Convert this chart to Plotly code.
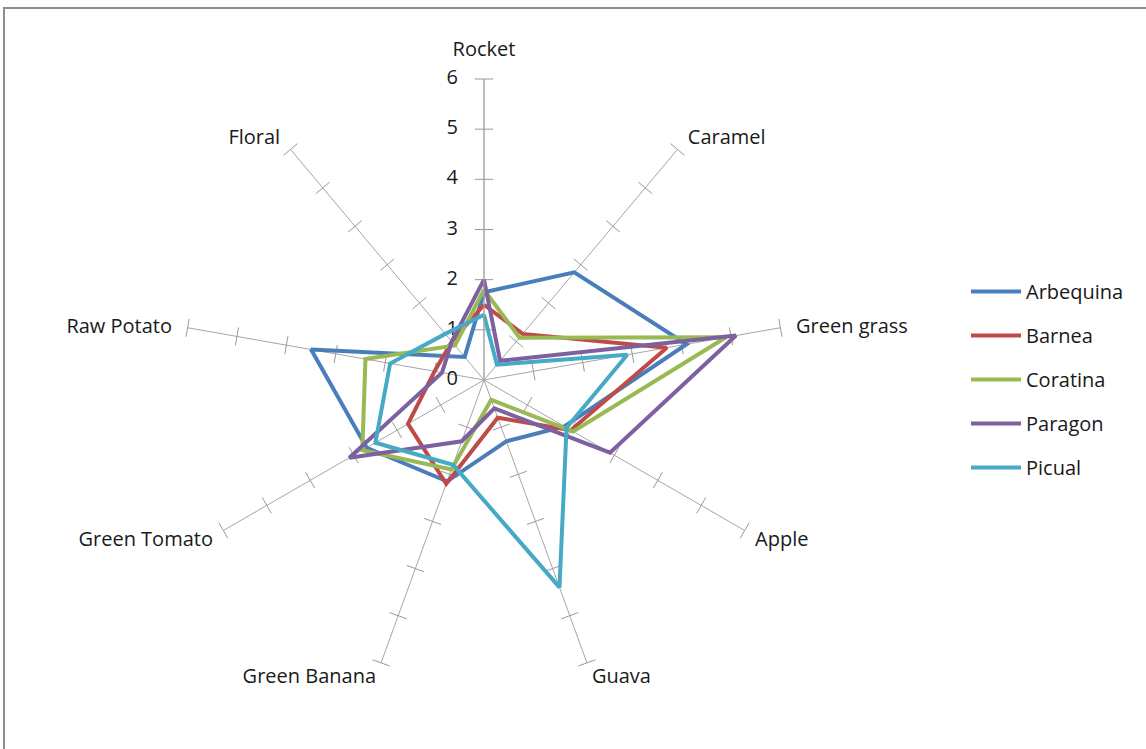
import plotly.graph_objects as go

categories = ["Rocket", "Caramel", "Green grass", "Apple", "Guava",
              "Green Banana", "Green Tomato", "Raw Potato", "Floral"]

arbequina = [1.75, 2.8, 4.1, 1.85, 1.3, 2.15, 2.7, 3.5, 0.6]
barnea    = [1.5, 1.2, 3.7, 2.0, 0.8, 2.2, 1.75, 1.0, 1.0]
coratina  = [1.8, 1.1, 4.9, 2.05, 0.42, 1.9, 2.8, 2.4, 0.9]
paragon   = [2.0, 0.5, 5.1, 2.9, 0.6, 1.3, 3.1, 0.85, 1.0]
picual    = [1.3, 0.4, 2.9, 1.9, 4.4, 1.8, 2.5, 1.9, 1.2]

series_names = ["Arbequina", "Barnea", "Coratina", "Paragon", "Picual"]
series_values = [arbequina, barnea, coratina, paragon, picual]
colors = ["#4A7EBB", "#BE4B48", "#98B954", "#7D60A0", "#46AAC5"]

tick_values = [0, 1, 2, 3, 4, 5, 6]
tick_labels = ["0", "1", "2", "3", "4", "5", "6"]

# label placement around the spoke ends (Excel-like anchoring)
label_pos = ["top center", "top right", "middle right", "bottom right", "bottom right",
             "bottom left", "bottom left", "middle left", "top left"]
label_gap = [27, 0, 0, 0, 6.4, 6.4, 0, 0, 0]      # invisible marker size -> vertical offset
label_pad = [0, 2, 3, 2, 0, 0, 2, 3, 2]            # horizontal padding (nbsp count)

FONT = "Open Sans"
FS = 20
TXT = "#1a1a1a"
NB = "\u00a0"

fig = go.Figure()

# cross tick marks on every spoke
n = len(categories)
tick_r, tick_t, tick_a = [], [], []
for i, c in enumerate(categories):
    for v in tick_values[1:]:
        tick_r.append(v)
        tick_t.append(c)
        tick_a.append(i * 360.0 / n)
fig.add_trace(go.Scatterpolar(
    r=tick_r, theta=tick_t, mode="markers", showlegend=False, hoverinfo="skip",
    marker=dict(symbol="line-ew", size=13, angle=tick_a,
                line=dict(color="#9a9a9a", width=1), color="#9a9a9a"),
))

# radial value labels, left of the Rocket spoke
fig.add_trace(go.Scatterpolar(
    r=tick_values, theta=[categories[0]] * len(tick_values), mode="text",
    text=[t + NB * 5 for t in tick_labels], textposition="middle left",
    textfont=dict(size=FS, family=FONT, color=TXT),
    showlegend=False, hoverinfo="skip", cliponaxis=False,
))

for name, vals, col in zip(series_names, series_values, colors):
    fig.add_trace(go.Scatterpolar(
        r=vals + vals[:1], theta=categories + categories[:1],
        mode="lines", name=name, legendgroup=name,
        line=dict(color=col, width=4),
    ))

# category labels at spoke ends
texts = []
for c, p, k in zip(categories, label_pos, label_pad):
    if "right" in p:
        texts.append(NB * k + c)
    elif "left" in p:
        texts.append(c + NB * k)
    else:
        texts.append(c)
fig.add_trace(go.Scatterpolar(
    r=[tick_values[-1]] * n, theta=categories, mode="markers+text",
    text=texts, textposition=label_pos,
    textfont=dict(size=FS, family=FONT, color=TXT),
    marker=dict(size=label_gap, color="rgba(0,0,0,0)", line=dict(width=0)),
    showlegend=False, hoverinfo="skip", cliponaxis=False,
))

cx, cy, R = 484, 380, 301
W, H = 1146, 749
fig.update_layout(
    width=W, height=H,
    margin=dict(l=0, r=0, t=0, b=0),
    paper_bgcolor="white",
    font=dict(family=FONT, size=FS, color=TXT),
    polar=dict(
        domain=dict(x=[(cx - R) / W, (cx + R) / W],
                    y=[(H - cy - R) / H, (H - cy + R) / H]),
        bgcolor="white",
        angularaxis=dict(direction="clockwise", rotation=90,
                         showline=False, showgrid=True, gridcolor="#a6a6a6",
                         gridwidth=1, ticks="", showticklabels=False),
        radialaxis=dict(range=[0, 6], tickvals=tick_values, showgrid=False,
                        showline=True, linecolor="#a6a6a6", linewidth=1,
                        ticks="", angle=90, showticklabels=False),
    ),
    legend=dict(x=966 / W, y=(H - 272) / H, xanchor="left", yanchor="top",
                font=dict(size=FS, family=FONT, color=TXT),
                tracegroupgap=15, itemwidth=50, bgcolor="rgba(0,0,0,0)"),
    shapes=[dict(type="rect", xref="paper", yref="paper",
                 x0=4 / W, x1=1.01, y0=-0.01, y1=(H - 8) / H,
                 line=dict(color="#8c8c8c", width=2), fillcolor="rgba(0,0,0,0)")],
)

fig.write_html("out.html")
